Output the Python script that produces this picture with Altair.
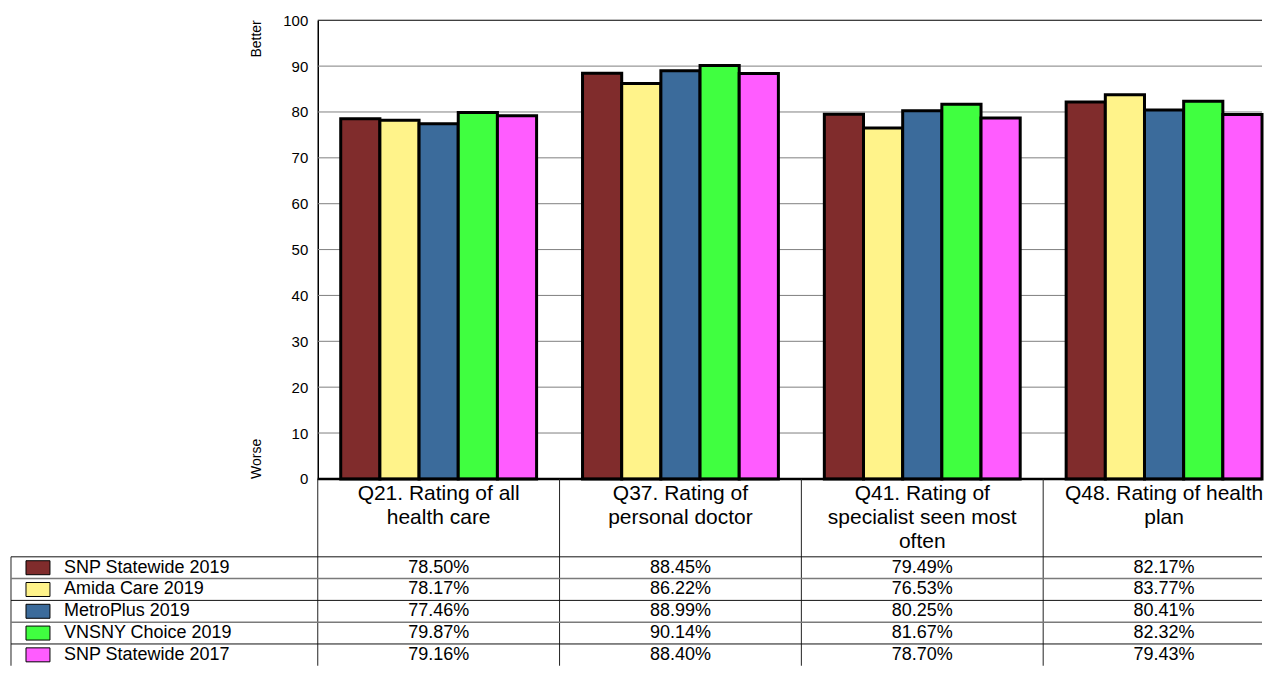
import altair as alt
import pandas as pd

# ---------------- data ----------------
category_lines = [
    ["Q21. Rating of all", "health care"],
    ["Q37. Rating of", "personal doctor"],
    ["Q41. Rating of", "specialist seen most", "often"],
    ["Q48. Rating of health", "plan"],
]
categories = [" ".join(lines) for lines in category_lines]

series = [
    "SNP Statewide 2019",
    "Amida Care 2019",
    "MetroPlus 2019",
    "VNSNY Choice 2019",
    "SNP Statewide 2017",
]
colors = ["#802C2C", "#FFF38A", "#3B6B9B", "#40FF40", "#FF5CFF"]

snp_statewide_2019 = [78.50, 88.45, 79.49, 82.17]
amida_care_2019 = [78.17, 86.22, 76.53, 83.77]
metroplus_2019 = [77.46, 88.99, 80.25, 80.41]
vnsny_choice_2019 = [79.87, 90.14, 81.67, 82.32]
snp_statewide_2017 = [79.16, 88.40, 78.70, 79.43]
series_values = [snp_statewide_2019, amida_care_2019, metroplus_2019,
                 vnsny_choice_2019, snp_statewide_2017]

y_ticks = list(range(0, 101, 10))

rows = []
for s, vals in zip(series, series_values):
    for c, v in zip(categories, vals):
        rows.append({"series": s, "category": c, "value": v})
df = pd.DataFrame(rows)

annot = pd.DataFrame({"label": ["Better", "Worse"], "value": [100, 0]})
grid_df = pd.DataFrame({"value": y_ticks})
cat_df = pd.DataFrame({"category": categories})
ser_df = pd.DataFrame({"series": series})
one_df = pd.DataFrame({"k": [0]})

# ---------------- layout constants ----------------
WT = 1252        # full frame width (table legend column + plot)
X0 = 307         # left edge of the plot inside the frame
H = 459          # bar plot height
STEP = 242       # width of one category column
RANGE = STEP * len(categories)
HEADER = 78      # height of header row of the table
TH = 109         # height of the table body (5 rows)
FONT = "Liberation Sans"
XR = WT

# multi-line axis labels
expr = "''"
for c, lines in reversed(list(zip(categories, category_lines))):
    arr = "[" + ",".join("'" + l + "'" for l in lines) + "]"
    expr = f"datum.label == '{c}' ? {arr} : ({expr})"

# ---------------- top: bars ----------------
x_top = alt.X(
    "category:N",
    sort=categories,
    scale=alt.Scale(domain=categories, range=[X0, X0 + RANGE],
                    paddingInner=0.19, paddingOuter=0.095),
    axis=alt.Axis(
        title=None, domain=False, ticks=False, tickSize=0, grid=False,
        labelPadding=4, labelFontSize=21, labelLineHeight=24, labelLimit=400,
        labelAngle=0, labelExpr=expr, labelColor="black", labelFont=FONT,
    ),
)
y_scale = alt.Scale(domain=[0, 100], nice=False)
y_top = alt.Y(
    "value:Q",
    scale=y_scale,
    axis=alt.Axis(
        title=None, values=y_ticks, ticks=False, tickSize=0, labelPadding=10,
        labelFontSize=15, labelColor="black", labelFont=FONT, offset=-X0,
        domainColor="black", domainWidth=1.5, grid=False,
    ),
)

color = alt.Color("series:N", sort=series,
                  scale=alt.Scale(domain=series, range=colors), legend=None)

grid_gray = alt.Chart(grid_df).transform_filter(
    "datum.value > 0 && datum.value < 100"
).mark_rule(color="#808080", strokeWidth=1).encode(
    y=alt.Y("value:Q"), x=alt.value(X0), x2=alt.value(XR)
)
grid_top = alt.Chart(grid_df).transform_filter("datum.value == 100").mark_rule(
    color="black", strokeWidth=1.2
).encode(y=alt.Y("value:Q"), x=alt.value(X0), x2=alt.value(XR))

bars = alt.Chart(df).mark_bar(stroke="black", strokeWidth=3).encode(
    x=x_top,
    xOffset=alt.XOffset("series:N", sort=series,
                        scale=alt.Scale(domain=series, paddingInner=0, paddingOuter=0)),
    y=y_top,
    color=color,
)

grid_zero = alt.Chart(grid_df).transform_filter("datum.value == 0").mark_rule(
    color="black", strokeWidth=2.5
).encode(y=alt.Y("value:Q"), x=alt.value(X0), x2=alt.value(XR))

better = alt.Chart(annot).transform_filter("datum.label == 'Better'").mark_text(
    angle=270, align="right", baseline="middle", fontSize=14, color="black", font=FONT
).encode(x=alt.value(X0 - 61), y=alt.Y("value:Q"), text="label:N")

worse = alt.Chart(annot).transform_filter("datum.label == 'Worse'").mark_text(
    angle=270, align="left", baseline="middle", fontSize=14, color="black", font=FONT
).encode(x=alt.value(X0 - 61), y=alt.Y("value:Q"), text="label:N")

top = alt.layer(grid_gray, grid_top, bars, grid_zero, better, worse).properties(
    width=WT, height=H
)

# ---------------- bottom: data table ----------------
x_tab_scale = alt.Scale(domain=categories, range=[X0, X0 + RANGE],
                        paddingInner=0, paddingOuter=0)
y_tab_scale = alt.Scale(domain=series, paddingInner=0, paddingOuter=0)

x_edge = alt.X("category:N", sort=categories, scale=x_tab_scale, axis=None, bandPosition=0)
y_row = alt.Y("series:N", sort=series, scale=y_tab_scale, axis=None)
y_edge = alt.Y("series:N", sort=series, scale=y_tab_scale, axis=None, bandPosition=0)

vlines = alt.Chart(cat_df).mark_rule(color="#222222", strokeWidth=1).encode(
    x=x_edge, y=alt.value(-HEADER), y2=alt.value(TH),
)

border = alt.Chart(one_df).mark_rule(color="#222222", strokeWidth=1).encode(
    x=alt.value(0), y=alt.value(0), y2=alt.value(TH)
)

rows_black = alt.Chart(ser_df).transform_filter(
    alt.FieldOneOfPredicate(field="series", oneOf=[series[0], series[2], series[4]])
).mark_rule(color="#111111", strokeWidth=1).encode(
    y=y_edge, x=alt.value(0), x2=alt.value(XR),
)
rows_gray = alt.Chart(ser_df).transform_filter(
    alt.FieldOneOfPredicate(field="series", oneOf=[series[1], series[3]])
).mark_rule(color="#7a7a7a", strokeWidth=1.5).encode(
    y=y_edge, x=alt.value(0), x2=alt.value(XR),
)

swatches = alt.Chart(ser_df).mark_point(
    shape="M-1.714,-1H1.714V1H-1.714Z", filled=True, size=196,
    stroke="black", strokeWidth=1, opacity=1,
).encode(x=alt.value(27), y=y_row, color=color)

legend_text = alt.Chart(ser_df).mark_text(
    align="left", baseline="middle", fontSize=18, color="black", font=FONT
).encode(x=alt.value(53), y=y_row, text="series:N")

values_text = alt.Chart(df).transform_calculate(
    label="format(datum.value, '.2f') + '%'"
).mark_text(
    align="center", baseline="middle", fontSize=18, color="black", font=FONT
).encode(
    x=alt.X("category:N", sort=categories, scale=x_tab_scale, axis=None),
    y=y_row,
    text="label:N",
)

bottom = alt.layer(
    vlines, border, rows_black, rows_gray, swatches, legend_text, values_text
).properties(width=WT, height=TH)

chart = (
    alt.vconcat(top, bottom, spacing=HEADER, bounds="flush")
    .resolve_scale(x="independent", y="independent", color="shared")
    .properties(padding={"left": 2, "top": 5, "right": 0, "bottom": 0})
    .configure(font=FONT)
    .configure_view(stroke=None)
)

chart.save("out.html", embed_options={"renderer": "svg", "actions": False})
